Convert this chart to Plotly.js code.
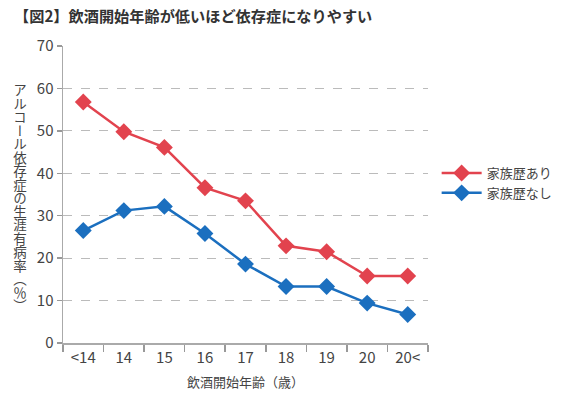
<!DOCTYPE html>
<html><head><meta charset="utf-8">
<script src="https://cdn.plot.ly/plotly-3.0.1.min.js"></script>
<style>body{margin:0;background:#fff}#c{width:570px;height:396px}</style>
</head><body><div id="c"></div>
<script>
var categories = ["<14","14","15","16","17","18","19","20","20<"];
var withHistory = [56.8, 49.8, 46.1, 36.6, 33.5, 22.9, 21.5, 15.8, 15.8];
var withoutHistory = [26.5, 31.2, 32.2, 25.8, 18.6, 13.3, 13.3, 9.4, 6.7];
var seriesNames = ["家族歴あり", "家族歴なし"];
var titleText = "【図2】飲酒開始年齢が低いほど依存症になりやすい";
var yTitle = "アルコール依存症の生涯有病率（％）";
var xTitle = "飲酒開始年齢（歳）";
var yTicks = [0,10,20,30,40,50,60,70];

var font = "'Noto Sans CJK JP', 'Noto Sans', sans-serif";
var red = "#e2434e", blue = "#1b6fbf";

var traces = [
  {x: categories, y: withHistory, name: seriesNames[0], type: "scatter", mode: "lines+markers",
   line: {color: red, width: 2.5}, marker: {symbol: "diamond", size: 13, color: red}},
  {x: categories, y: withoutHistory, name: seriesNames[1], type: "scatter", mode: "lines+markers",
   line: {color: blue, width: 2.5}, marker: {symbol: "diamond", size: 13, color: blue}}
];

var L = 63, R = 127, T = 46, B = 53, W = 570, H = 396;
var pw = W - L - R, ph = H - T - B;
var anns = [];
anns.push({xref: "paper", yref: "paper", x: (10 - L)/pw, y: (H - B - 15)/ph, xanchor: "left", yanchor: "middle",
  text: "<b>" + titleText + "</b>", showarrow: false, font: {family: font, size: 15.2, color: "#333"}});
anns.push({xref: "paper", yref: "paper", x: 0.5, y: (H - B - 381)/ph, xanchor: "center", yanchor: "middle",
  text: xTitle, showarrow: false, font: {family: font, size: 13, color: "#444"}});
// y-axis title, later switched to vertical (upright) writing
anns.push({xref: "paper", yref: "paper", x: (20 - L)/pw, y: (H - B - 198)/ph, xanchor: "center", yanchor: "middle",
  text: yTitle, showarrow: false, font: {family: font, size: 13.5, color: "#444"}});

var layout = {
  width: W, height: H, margin: {l: L, r: R, t: T, b: B},
  paper_bgcolor: "#fff", plot_bgcolor: "#fff",
  font: {family: font, color: "#444"},
  showlegend: true,
  legend: {x: (452 - L)/pw, y: (H - B - 183)/ph, xanchor: "left", yanchor: "middle",
    font: {family: font, size: 13, color: "#444"}, tracegroupgap: 0, itemwidth: 40},
  xaxis: {type: "category", range: [-0.5, 8.5], tickson: "boundaries", ticks: "outside", ticklen: 7,
    tickcolor: "#999", tickwidth: 1.5, showline: true, linecolor: "#aaa", linewidth: 1.5,
    showgrid: false, tickfont: {family: font, size: 15, color: "#444"}, fixedrange: true},
  yaxis: {range: [0, 70], tickvals: yTicks, ticks: "outside", ticklen: 5, tickcolor: "#999", tickwidth: 1.5,
    showline: true, linecolor: "#aaa", linewidth: 1.5, showgrid: true, gridcolor: "#bbb", griddash: "dash",
    gridwidth: 1, zeroline: false, tickfont: {family: font, size: 15, color: "#444"}},
  annotations: anns
};
Plotly.newPlot("c", traces, layout, {displayModeBar: false, staticPlot: true}).then(function(gd){
  var texts = gd.querySelectorAll(".annotation-text");
  var t = texts[2];
  if (!t) return;
  t.style.writingMode = "vertical-rl";
  t.setAttribute("text-anchor", "middle");
  var r = t.getBoundingClientRect();
  var svgR = gd.querySelector(".main-svg").getBoundingClientRect();
  var cx = r.left + r.width/2 - svgR.left, cy = r.top + r.height/2 - svgR.top;
  var dx = 20 - cx, dy = 198 - cy;
  var tr = t.getAttribute("transform") || "";
  t.setAttribute("transform", "translate(" + dx + "," + dy + ") " + tr);
});
</script></body></html>
